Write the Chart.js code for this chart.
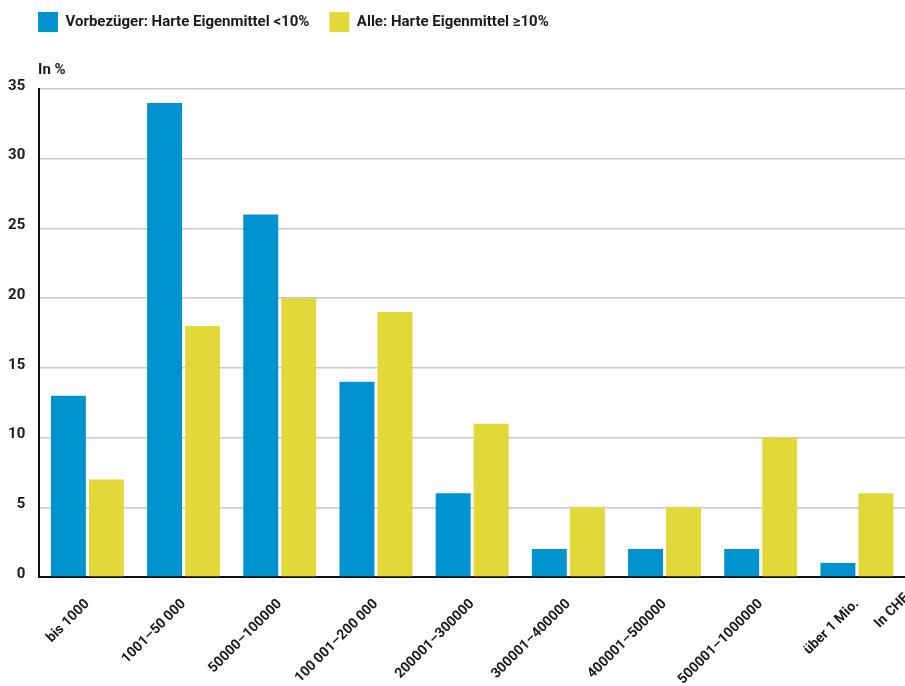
<!DOCTYPE html>
<html>
<head>
<meta charset="utf-8">
<script src="https://cdn.jsdelivr.net/npm/chart.js@4/dist/chart.umd.min.js"></script>
<style>
  html, body { margin: 0; padding: 0; background: #fff; }
  #wrap { width: 905px; height: 686px; }
</style>
</head>
<body>
<div id="wrap"><canvas id="incomeChart"></canvas></div>
<script>
const categories = ['bis 1000', '1001–50\u2009000', '50000–100000', '100\u2009001–200\u2009000', '200001–300000',
    '300001–400000', '400001–500000', '500001–1000000', 'über 1 Mio.'];
const vorbezueger = [13, 34, 26, 14, 6, 2, 2, 2, 1];
const alle = [7, 18, 20, 19, 11, 5, 5, 10, 6];
const seriesNames = ['Vorbezüger: Harte Eigenmittel <10%', 'Alle: Harte Eigenmittel ≥10%'];
const yMax = 35;
const yStep = 5;

const fontFamily = "Roboto, 'Liberation Sans', sans-serif";
const blue = '#0093d0';
const yellow = '#e2d838';
const legendPad = 20;

// legend placement and the two unit labels
const unitLabels = {
    id: 'unitLabels',
    afterInit(chart) {
        // push the plot area down below the legend
        const legend = chart.legend;
        const fit = legend.fit;
        legend.fit = function () {
            fit.call(this);
            this.height = 89;
        };
    },
    afterLayout(chart) {
        chart.legend.left = 38 - legendPad;
        chart.legend.top = 12 - legendPad;
    },
    afterDraw(chart) {
        const c = chart.ctx;
        const x = chart.scales.x;
        c.save();
        c.fillStyle = '#1a1a1a';
        c.font = 'bold 15px ' + fontFamily;
        c.textBaseline = 'alphabetic';
        c.textAlign = 'left';
        c.fillText('In %', 38, 74);

        const last = x.getPixelForTick(categories.length - 1);
        const step = x.getPixelForTick(1) - x.getPixelForTick(0);
        c.translate(last + step * 0.52, x.top + 19);
        c.rotate(-Math.PI / 4);
        c.font = 'bold 14px ' + fontFamily;
        c.textAlign = 'right';
        c.textBaseline = 'middle';
        c.fillText('In CHF', 0, 0);
        c.restore();
    }
};

const ctx = document.getElementById('incomeChart').getContext('2d');

const chart = new Chart(ctx, {
    type: 'bar',
    data: {
        labels: categories,
        datasets: [
            {
                label: seriesNames[0],
                data: vorbezueger,
                backgroundColor: blue,
                borderWidth: 0,
                categoryPercentage: 0.79,
                barPercentage: 0.92
            },
            {
                label: seriesNames[1],
                data: alle,
                backgroundColor: yellow,
                borderWidth: 0,
                categoryPercentage: 0.79,
                barPercentage: 0.92
            }
        ]
    },
    options: {
        responsive: true,
        maintainAspectRatio: false,
        animation: false,
        layout: {
            padding: 0
        },
        plugins: {
            legend: {
                position: 'top',
                align: 'start',
                labels: {
                    boxWidth: 20,
                    boxHeight: 20,
                    padding: legendPad,
                    color: '#1a1a1a',
                    font: { family: fontFamily, size: 15, weight: 'bold' }
                }
            },
            title: { display: false },
            tooltip: { enabled: false }
        },
        scales: {
            x: {
                afterFit(scale) { scale.height = 109; },
                grid: { display: false, drawTicks: false },
                border: { display: true, color: '#111', width: 2 },
                ticks: {
                    maxRotation: 45,
                    minRotation: 45,
                    padding: 19,
                    color: '#1a1a1a',
                    font: { family: fontFamily, size: 14, weight: 'bold' }
                }
            },
            y: {
                min: 0,
                max: yMax,
                afterFit(scale) { scale.width = 39.3; },
                grid: {
                    drawTicks: false,
                    lineWidth: 1.5,
                    color: c => c.tick && c.tick.value === 0 ? 'rgba(0,0,0,0)' : '#c8c8c8'
                },
                border: { display: true, color: '#111', width: 2 },
                ticks: {
                    stepSize: yStep,
                    padding: 14,
                    labelOffset: -3,
                    color: '#1a1a1a',
                    font: { family: fontFamily, size: 15, weight: 'bold' }
                }
            }
        }
    },
    plugins: [unitLabels]
});
</script>
</body>
</html>
